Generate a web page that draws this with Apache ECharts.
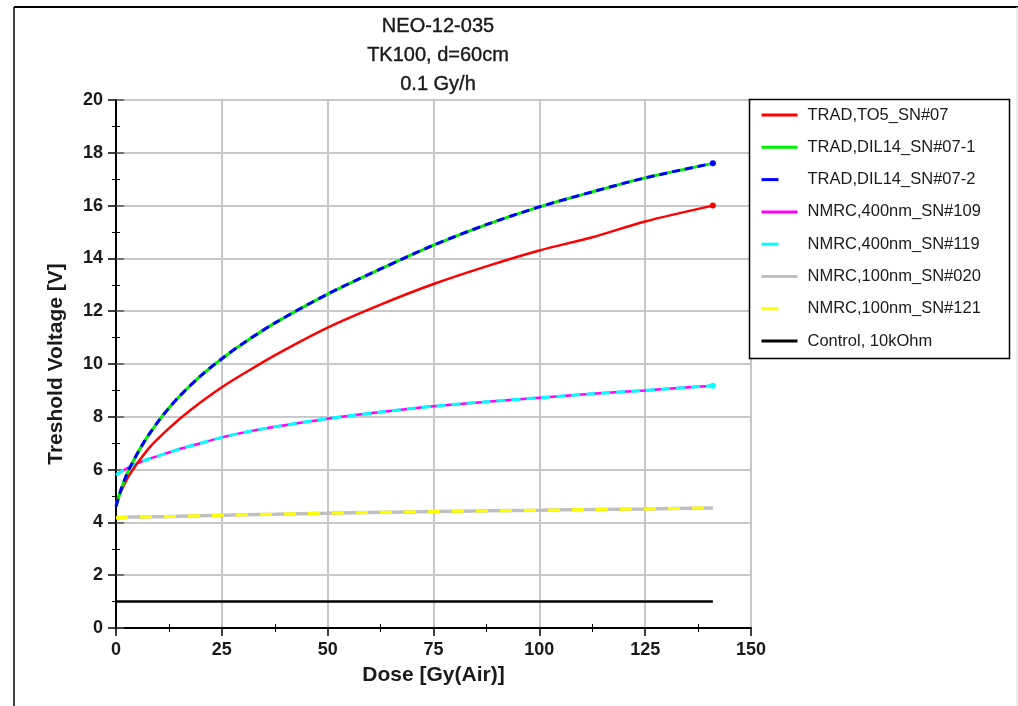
<!DOCTYPE html>
<html><head><meta charset="utf-8">
<script src="https://cdn.jsdelivr.net/npm/echarts@6/dist/echarts.min.js"></script>
<style>html,body{margin:0;padding:0;background:#fff}#c{width:1018px;height:706px}</style>
</head><body><div id="c"></div>
<script>
// ---- data ----
const dose = [0, 1, 2, 3, 4.5, 6, 8, 10, 12.5, 15, 20, 25, 30, 37.5, 50, 62.5, 75, 87.5, 100, 112.5, 125, 141];
const tradTO5_07     = [4.75, 5.1, 5.45, 5.75, 6.12, 6.45, 6.85, 7.18, 7.56, 7.92, 8.55, 9.12, 9.62, 10.33, 11.38, 12.25, 13.03, 13.7, 14.3, 14.8, 15.4, 16.0];
const tradDIL14_07_1 = [4.6, 5.15, 5.6, 5.98, 6.45, 6.88, 7.38, 7.83, 8.33, 8.78, 9.55, 10.2, 10.78, 11.55, 12.65, 13.6, 14.5, 15.28, 15.95, 16.52, 17.05, 17.6];
const tradDIL14_07_2 = [4.6, 5.15, 5.6, 5.98, 6.45, 6.88, 7.38, 7.83, 8.33, 8.78, 9.55, 10.2, 10.78, 11.55, 12.65, 13.6, 14.5, 15.28, 15.95, 16.52, 17.05, 17.6];
const nmrc400_109 = [5.8, 5.9, 6.0, 6.08, 6.2, 6.3, 6.42, 6.52, 6.65, 6.78, 7.0, 7.22, 7.4, 7.62, 7.93, 8.18, 8.4, 8.57, 8.72, 8.87, 9.0, 9.18];
const nmrc400_119 = [5.8, 5.9, 6.0, 6.08, 6.2, 6.3, 6.42, 6.52, 6.65, 6.78, 7.0, 7.22, 7.4, 7.62, 7.93, 8.18, 8.4, 8.57, 8.72, 8.87, 9.0, 9.18];
const nmrc100_020 = [4.18, 4.19, 4.19, 4.2, 4.2, 4.2, 4.21, 4.21, 4.22, 4.23, 4.25, 4.27, 4.29, 4.31, 4.35, 4.38, 4.41, 4.44, 4.46, 4.49, 4.51, 4.55];
const nmrc100_121 = [4.18, 4.19, 4.19, 4.2, 4.2, 4.2, 4.21, 4.21, 4.22, 4.23, 4.25, 4.27, 4.29, 4.31, 4.35, 4.38, 4.41, 4.44, 4.46, 4.49, 4.51, 4.55];
const control10k  = [1, 1, 1, 1, 1, 1, 1, 1, 1, 1, 1, 1, 1, 1, 1, 1, 1, 1, 1, 1, 1, 1];
const seriesNames = ['TRAD,TO5_SN#07', 'TRAD,DIL14_SN#07-1', 'TRAD,DIL14_SN#07-2', 'NMRC,400nm_SN#109', 'NMRC,400nm_SN#119', 'NMRC,100nm_SN#020', 'NMRC,100nm_SN#121', 'Control, 10kOhm'];
const titleLines = ['NEO-12-035', 'TK100, d=60cm', '0.1 Gy/h'];
const xTitle = 'Dose [Gy(Air)]';
const yTitle = 'Treshold Voltage [V]';

// ---- build ----
const FONT = 'Liberation Sans, Arial, sans-serif';
function pts(vals, endDot, color) {
  return vals.map((v, i) => {
    const p = {value: [dose[i], v]};
    if (endDot && i === vals.length - 1) { p.symbol = 'circle'; p.symbolSize = 6; p.itemStyle = {color: color}; }
    return p;
  });
}
const styles = [
  {c: '#ff0000', w: 2.5, dash: 'solid', dot: true, z: 5},
  {c: '#00ee00', w: 3, dash: 'solid', dot: false, z: 6},
  {c: '#0000ff', w: 3, dash: [8, 5], dot: true, z: 7},
  {c: '#ff00ff', w: 2.5, dash: 'solid', dot: false, z: 3},
  {c: '#00ffff', w: 3, dash: [9, 6], dot: true, z: 4},
  {c: '#c0c0c0', w: 3.5, dash: 'solid', dot: false, z: 3},
  {c: '#ffff00', w: 3, dash: [12, 12], dot: false, z: 4},
  {c: '#000000', w: 2.5, dash: 'solid', dot: false, z: 3}
];
const values = [tradTO5_07, tradDIL14_07_1, tradDIL14_07_2, nmrc400_109, nmrc400_119, nmrc100_020, nmrc100_121, control10k];
const series = values.map((vals, k) => ({
  name: seriesNames[k], type: 'line', smooth: 0.3, symbol: 'none', z: styles[k].z,
  color: styles[k].c,
  lineStyle: {color: styles[k].c, width: styles[k].w, type: styles[k].dash},
  data: pts(vals, styles[k].dot, styles[k].c),
  animation: false
}));
const legendData = seriesNames.map((n, k) => ({
  name: n,
  lineStyle: {type: Array.isArray(styles[k].dash) ? [17, 40] : 'solid', width: 3, color: styles[k].c}
}));

const chart = echarts.init(document.getElementById('c'));
const axisTxt = {color: '#1a1a1a', fontFamily: FONT, fontSize: 18, fontWeight: 'bold'};
chart.setOption({
  animation: false,
  backgroundColor: '#fff',
  title: {text: titleLines.join('\n'), left: 433, top: 7, textAlign: 'center',
    textStyle: {fontFamily: FONT, fontSize: 20, fontWeight: 'normal', color: '#1a1a1a', lineHeight: 29,
      textBorderColor: '#1a1a1a', textBorderWidth: 0.4}},
  grid: {left: 116, right: 267, top: 100, bottom: 78},
  legend: {orient: 'vertical', left: 760, top: 106, padding: 0, itemWidth: 36, itemHeight: 18, itemGap: 14.3,
    data: legendData, selectedMode: false, z: 10,
    itemStyle: {opacity: 0},
    textStyle: {fontFamily: FONT, fontSize: 16.5, lineHeight: 18, color: '#1a1a1a', padding: [0, 0, 0, 5]}},
  xAxis: [{type: 'value', min: 0, max: 150, interval: 25,
      name: xTitle, nameLocation: 'middle', nameGap: 37,
      nameTextStyle: {fontFamily: FONT, fontSize: 21, fontWeight: 'bold', color: '#1a1a1a'},
      axisLine: {show: true, onZero: false, lineStyle: {color: '#000', width: 2}},
      axisTick: {show: true, length: 8, lineStyle: {color: '#000', width: 1.5}},
      minorTick: {show: true, splitNumber: 2, length: 4, lineStyle: {color: '#000', width: 1}},
      axisLabel: Object.assign({margin: 13}, axisTxt),
      splitLine: {show: true, lineStyle: {color: '#c8c8c8', width: 2}}},
    {type: 'value', min: 0, max: 150, interval: 25, position: 'bottom',
      axisLine: {show: false}, axisLabel: {show: false}, splitLine: {show: false},
      axisTick: {show: false, inside: true},
      minorTick: {show: true, splitNumber: 2, length: 4, lineStyle: {color: '#000', width: 1}}}],
  yAxis: [{type: 'value', min: 0, max: 20, interval: 2,
      name: yTitle, nameLocation: 'middle', nameGap: 49,
      nameTextStyle: {fontFamily: FONT, fontSize: 21, fontWeight: 'bold', color: '#1a1a1a'},
      axisLine: {show: true, onZero: false, lineStyle: {color: '#000', width: 2}},
      axisTick: {show: true, length: 8, lineStyle: {color: '#000', width: 1.5}},
      minorTick: {show: true, splitNumber: 2, length: 4, lineStyle: {color: '#000', width: 1}},
      axisLabel: Object.assign({margin: 13}, axisTxt),
      splitLine: {show: true, lineStyle: {color: '#c8c8c8', width: 2}}},
    {type: 'value', min: 0, max: 20, interval: 2, position: 'left',
      axisLine: {show: false}, axisLabel: {show: false}, splitLine: {show: false},
      axisTick: {show: true, inside: true, length: 8, lineStyle: {color: '#555', width: 1.5}},
      minorTick: {show: true, splitNumber: 2, length: 4, lineStyle: {color: '#000', width: 1}}}],
  graphic: [
    {type: 'line', shape: {x1: 14, y1: 7, x2: 1018, y2: 7}, style: {stroke: '#000', lineWidth: 2}, z: 0},
    {type: 'line', shape: {x1: 14, y1: 7, x2: 14, y2: 706}, style: {stroke: '#000', lineWidth: 1.5}, z: 0},
    {type: 'line', shape: {x1: 1017, y1: 7, x2: 1017, y2: 706}, style: {stroke: '#ddd', lineWidth: 1}, z: 0},
    {type: 'rect', shape: {x: 749.5, y: 99.5, width: 260, height: 259}, style: {fill: '#fff', stroke: '#000', lineWidth: 1.5}, z: 8}
  ],
  series: series
});
</script></body></html>
